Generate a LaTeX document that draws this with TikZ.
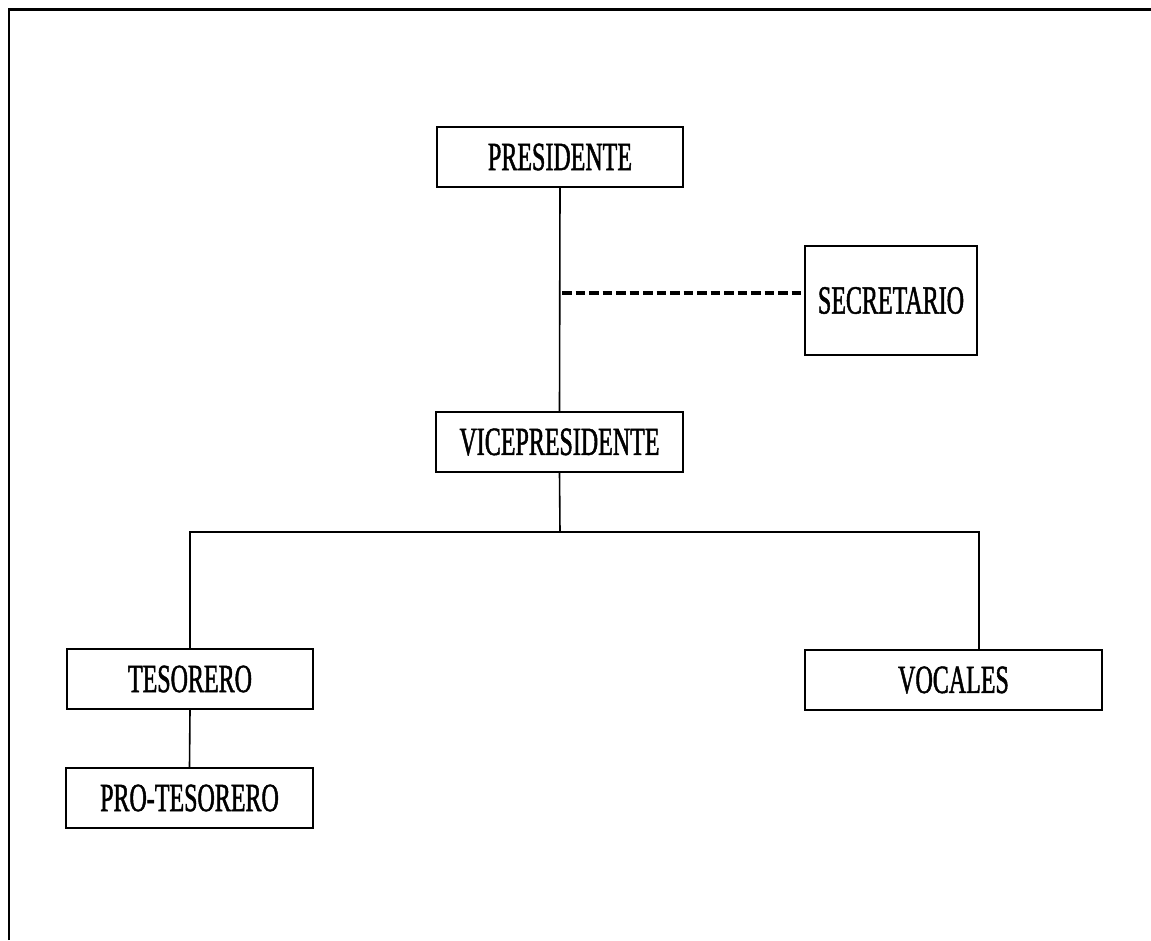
\documentclass[tikz,border=0pt]{standalone}
\usepackage{fontspec}
\newfontfamily\cond{Liberation Serif}[FakeStretch=0.6,FakeBold=1.2]
\begin{document}
\begin{tikzpicture}[x=1pt,y=-1pt,
  box/.style={draw,line width=2.2pt,inner sep=0pt,minimum height=60pt,
    font=\cond\fontsize{40}{40}\selectfont},
  conn/.style={line width=1.6pt},
  dashconn/.style={line width=4pt,dash pattern=on 9.5pt off 4pt}]
\useasboundingbox (0,0) rectangle (1151,940);
\draw[line width=2.2pt] (9,940) -- (9,9);
\draw[line width=3pt] (8,9) -- (1151,9);
\node[box,minimum width=246pt] (pres) at (560,157) {PRESIDENTE};
\node[box,minimum width=172pt,minimum height=109pt] (sec) at (891,300.5) {SECRETARIO};
\node[box,minimum width=247pt] (vice) at (559.5,442) {VICEPRESIDENTE};
\node[box,minimum width=246pt] (tes) at (190,679) {TESORERO};
\node[box,minimum width=247pt] (pro) at (189.5,798) {PRO-TESORERO};
\node[box,minimum width=297pt] (voc) at (953.5,680) {VOCALES};
\coordinate (d) at (562,293);
\coordinate (bus) at (560,532);
\coordinate (vr) at (979,650);
\draw[conn] (pres.south) -- (vice.north);
\draw[dashconn] (d) -- (d -| sec.west);
\draw[conn] (vice.south) -- (bus);
\draw[conn] (tes.north) |- (bus) -| (vr);
\draw[conn] (tes.south) -- (pro.north);
\end{tikzpicture}
\end{document}
